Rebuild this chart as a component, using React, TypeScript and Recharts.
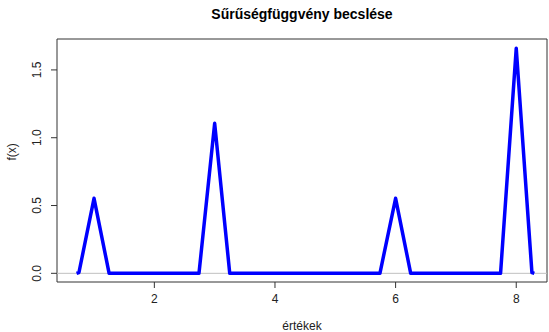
import { LineChart, Line, XAxis, YAxis, ReferenceLine, ReferenceArea } from 'recharts';

// density estimate vertices (x value, f(x))
const xs = [0.71, 0.75, 1.0, 1.25, 2.74, 3.0, 3.25, 5.74, 6.0, 6.25, 7.74, 8.0, 8.26, 8.3];
const ys = [0, 0.006, 0.553, 0, 0, 1.106, 0, 0, 0.553, 0, 0, 1.659, 0.006, 0];
const xTicks = [2, 4, 6, 8];
const yTicks = [0, 0.5, 1.0, 1.5];

const xDomain: [number, number] = [0.386, 8.51];
const yDomain: [number, number] = [-0.064, 1.728];

const data = xs.map((x, i) => ({ x, y: ys[i] }));

const font = '"Liberation Sans", Arial, sans-serif';

function YTick({ x, y, payload }: any) {
  const cx = x - 4;
  return (
    <text x={cx} y={y} transform={`rotate(-90 ${cx} ${y})`} textAnchor="middle"
      fontSize={12} fill="#222" fontFamily={font}>
      {Number(payload.value).toFixed(1)}
    </text>
  );
}

export default function App() {
  return (
    <div style={{ position: 'absolute', left: 0, top: 0, width: 549, height: 332, background: '#fff' }}>
      <div style={{ position: 'absolute', left: 57, width: 490, top: 6, textAlign: 'center',
        fontFamily: font, fontWeight: 'bold', fontSize: 14, color: '#000' }}>
        Sűrűségfüggvény becslése
      </div>
      <LineChart width={549} height={332} data={data} margin={{ top: 39, right: 2, left: 0, bottom: 0 }}>
        <XAxis dataKey="x" type="number" domain={xDomain} ticks={xTicks} allowDataOverflow
          height={50} tickSize={6} tickMargin={6} axisLine={false} tickLine={{ stroke: '#333' }}
          tick={{ fontSize: 12, fill: '#222', fontFamily: font }}
          label={{ value: 'értékek', position: 'insideBottom', offset: 2, fontSize: 12, fill: '#222', fontFamily: font }} />
        <YAxis type="number" domain={yDomain} ticks={yTicks} allowDataOverflow
          width={57} tickSize={6} tickMargin={6} axisLine={false} tickLine={{ stroke: '#333' }}
          tick={<YTick />}
          label={{ value: 'f(x)', angle: -90, position: 'insideLeft', offset: 12, fontSize: 12, fill: '#222', fontFamily: font }} />
        <ReferenceLine y={0} stroke="#c0c0c0" strokeWidth={1} />
        <Line type="linear" dataKey="y" stroke="#0000ff" strokeWidth={3.5} dot={false}
          isAnimationActive={false} strokeLinejoin="round" />
        <ReferenceArea x1={xDomain[0]} x2={xDomain[1]} y1={yDomain[0]} y2={yDomain[1]}
          fill="none" stroke="#333" strokeWidth={1} fillOpacity={0} />
      </LineChart>
    </div>
  );
}
